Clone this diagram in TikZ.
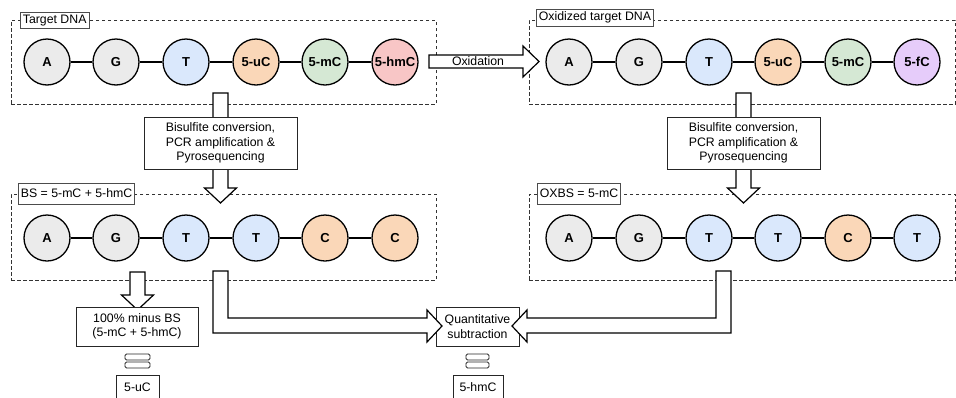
\documentclass[tikz,border=0pt]{standalone}
\usepackage{fontspec}
\setmainfont{Liberation Sans}
\definecolor{cgray}{HTML}{EBEBEB}
\definecolor{cblue}{HTML}{DAE8FC}
\definecolor{corange}{HTML}{FAD7B8}
\definecolor{cgreen}{HTML}{D5E8D4}
\definecolor{cred}{HTML}{F8C6C6}
\definecolor{cpurple}{HTML}{E6CCFA}
\newcommand{\downblock}[4]{\draw[barrow] ({#1-7.5},#2) -- ({#1+7.5},#2) -- ({#1+7.5},#3) -- ({#1+16},#3) -- (#1,#4) -- ({#1-16},#3) -- ({#1-7.5},#3) -- cycle;}
\begin{document}
\begin{tikzpicture}[x=1pt,y=-1pt,
  base/.style={circle,draw=black,line width=1.3pt,minimum size=46pt,inner sep=0pt,font=\fontsize{13}{15}\selectfont\bfseries},
  grp/.style={draw=black!80,dash pattern=on 3.5pt off 2.5pt,line width=0.7pt,inner sep=0pt},
  lab/.style={draw=black!70,fill=white,line width=0.8pt,inner sep=2.5pt,font=\fontsize{12.3}{14}\selectfont},
  proc/.style={draw=black!85,fill=white,line width=0.9pt,align=center,inner sep=1pt,font=\fontsize{12.3}{14.5}\selectfont},
  barrow/.style={draw=black,fill=white,line width=1.2pt,line join=miter},
  eqbar/.style={draw=black!85,fill=white,line width=0.9pt,rounded corners=1.5pt},
  link/.style={line width=1.2pt}]
\useasboundingbox (0,0) rectangle (956,397);
\fill[white] (0,0) rectangle (956,397);

% dashed groups
\node[grp,minimum width=425pt,minimum height=84pt] (g1) at (223.5,62) {};
\node[grp,minimum width=426pt,minimum height=84pt] (g2) at (742,62) {};
\node[grp,minimum width=425pt,minimum height=86pt] (g3) at (223.5,237) {};
\node[grp,minimum width=426pt,minimum height=86pt] (g4) at (742,237) {};

% circles
\foreach \n/\x/\c/\t in {1/47/cgray/A,2/116/cgray/G,3/186/cblue/T,4/256/corange/5-uC,5/325/cgreen/5-mC,6/395/cred/5-hmC}
  \node[base,fill=\c] (t\n) at (\x,62) {\t};
\foreach \n/\x/\c/\t in {1/569/cgray/A,2/639/cgray/G,3/709/cblue/T,4/778/corange/5-uC,5/848/cgreen/5-mC,6/917/cpurple/5-fC}
  \node[base,fill=\c] (o\n) at (\x,62) {\t};
\foreach \n/\x/\c/\t in {1/47/cgray/A,2/116/cgray/G,3/186/cblue/T,4/256/cblue/T,5/325/corange/C,6/395/corange/C}
  \node[base,fill=\c] (b\n) at (\x,238) {\t};
\foreach \n/\x/\c/\t in {1/569/cgray/A,2/639/cgray/G,3/709/cblue/T,4/778/cblue/T,5/848/corange/C,6/917/cblue/T}
  \node[base,fill=\c] (x\n) at (\x,238) {\t};
\foreach \r in {t,o,b,x}
  \foreach \a/\b in {1/2,2/3,3/4,4/5,5/6}
    \draw[link] (\r\a) -- (\r\b);

% group labels
\node[lab,minimum height=15pt,anchor=west] (l1) at (20,20.5) {Target DNA};
\node[lab,minimum height=17pt,anchor=west] (l2) at (536,17.5) {Oxidized target DNA};
\node[lab,minimum height=21pt,anchor=west] (l3) at (18,193.5) {BS = 5-mC + 5-hmC};
\node[lab,minimum height=21pt,anchor=west] (l4) at (537,193.5) {OXBS = 5-mC};

% block arrows
\draw[barrow] (429,55) -- (523,55) -- (523,46) -- (539,61.5) -- (523,77) -- (523,68) -- (429,68) -- cycle;
\node[font=\fontsize{12.3}{14}\selectfont,inner sep=0pt] (ox) at (478,61.5) {Oxidation};
\downblock{220.5}{93}{188}{203}
\downblock{743.5}{93}{188}{203}
\downblock{137.5}{272}{295}{310}

% process boxes
\node[proc,minimum width=153pt,minimum height=52pt] (p1) at (220.5,143) {Bisulfite conversion,\\PCR amplification \&\\Pyrosequencing};
\node[proc,minimum width=153pt,minimum height=52pt] (p2) at (743.5,143) {Bisulfite conversion,\\PCR amplification \&\\Pyrosequencing};
\node[proc,minimum width=122pt,minimum height=39pt] (m1) at (137,326.5) {100\% minus BS\\(5-mC + 5-hmC)};
\node[proc,minimum width=83pt,minimum height=39pt] (q1) at (477.5,326.5) {Quantitative\\subtraction};

\draw[barrow] (213,271) -- (228,271) -- (228,318) -- (427,318) -- (427,310) -- (442,326) -- (427,342) -- (427,333) -- (213,333) -- cycle;
\draw[barrow] (716,271) -- (731,271) -- (731,333) -- (527,333) -- (527,342) -- (512,326) -- (527,310) -- (527,318) -- (716,318) -- cycle;

% equals and results
\draw[eqbar] (125,354) rectangle (150,360);
\draw[eqbar] (125,362) rectangle (150,368);
\draw[eqbar] (466,354) rectangle (489,360);
\draw[eqbar] (466,362) rectangle (489,368);
\node[proc,minimum width=43pt,minimum height=25pt] (r1) at (137.5,387.5) {5-uC};
\node[proc,minimum width=50pt,minimum height=25pt] (r2) at (478,387.5) {5-hmC};
\end{tikzpicture}
\end{document}
